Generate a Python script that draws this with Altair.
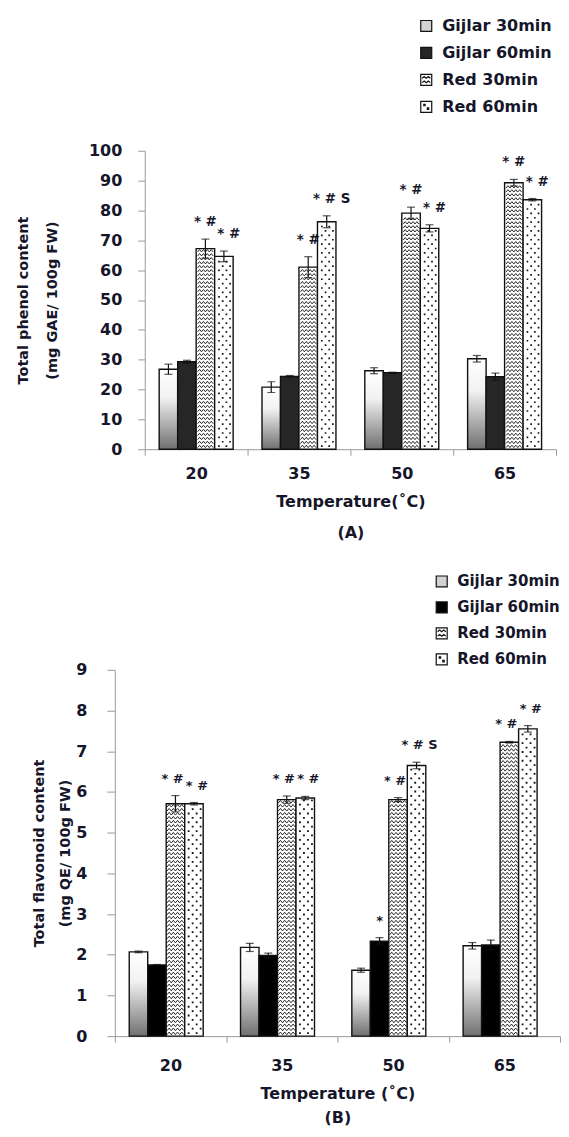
import altair as alt
import pandas as pd

temps = ["20", "35", "50", "65"]
series = ["Gijlar 30min", "Gijlar 60min", "Red 30min", "Red 60min"]

# ---- Panel A: total phenol content (mg GAE / 100 g FW)
phenol_g30 = [26.8, 20.8, 26.3, 30.3]
phenol_g60 = [29.3, 24.4, 25.6, 24.3]
phenol_r30 = [67.2, 61.0, 79.1, 89.3]
phenol_r60 = [64.6, 76.2, 74.0, 83.6]
phenol_g30_err = [1.7, 1.8, 1.0, 1.1]
phenol_g60_err = [0.5, 0.3, 0.2, 1.2]
phenol_r30_err = [3.2, 3.5, 2.0, 1.1]
phenol_r60_err = [1.8, 2.0, 1.2, 0.4]
phenol_sig_g30 = ["", "", "", ""]
phenol_sig_g60 = ["", "", "", ""]
phenol_sig_r30 = ["* #", "* #", "* #", "* #"]
phenol_sig_r60 = ["* #", "* # S", "* #", "* #"]

# ---- Panel B: total flavonoid content (mg QE / 100 g FW)
flav_g30 = [2.07, 2.18, 1.62, 2.22]
flav_g60 = [1.75, 1.98, 2.33, 2.24]
flav_r30 = [5.71, 5.81, 5.81, 7.22]
flav_r60 = [5.71, 5.85, 6.65, 7.55]
flav_g30_err = [0.02, 0.10, 0.05, 0.08]
flav_g60_err = [0.01, 0.06, 0.09, 0.12]
flav_r30_err = [0.20, 0.09, 0.05, 0.02]
flav_r60_err = [0.03, 0.04, 0.08, 0.08]
flav_sig_g30 = ["", "", "", ""]
flav_sig_g60 = ["", "", "*", ""]
flav_sig_r30 = ["* #", "* #", "* #", "* #"]
flav_sig_r60 = ["* #", "* #", "* # S", "* #"]

TXT = "#16162a"
AX = "#9a9a9a"
INK = "#111111"
SQ = "M-1,-1H1V1H-1Z"
LEG_WAVE = SQ + " M-0.75,-0.3L-0.375,-0.6L0,-0.3L0.375,-0.6L0.75,-0.3 M-0.75,0.5L-0.375,0.2L0,0.5L0.375,0.2L0.75,0.5"
LEG_DOT = SQ + " M-0.45,-0.45h0.25v0.25h-0.25Z M0.2,0.2h0.25v0.25h-0.25Z"
WAVE = "M-0.84,0.13L-0.63,-0.13L-0.42,0.13L-0.21,-0.13L0,0.13L0.21,-0.13L0.42,0.13L0.63,-0.13L0.84,0.13"
DOTS_0 = "M-0.62,-0.09h0.18v0.18h-0.18Z M0.18,-0.09h0.18v0.18h-0.18Z"
DOTS_1 = "M-0.22,-0.09h0.18v0.18h-0.18Z M0.58,-0.09h0.18v0.18h-0.18Z"

GRAD = alt.LinearGradient(
    gradient="linear",
    stops=[alt.GradientStop(color="#ffffff", offset=0),
           alt.GradientStop(color="#f2f2f2", offset=0.35),
           alt.GradientStop(color="#707070", offset=1)],
    x1=0, x2=0, y1=0, y2=1)


def table(vals, errs, sigs):
    rows = []
    for s, vl, el, sl in zip(series, vals, errs, sigs):
        for t, v, e, g in zip(temps, vl, el, sl):
            rows.append({"temp": t, "series": s, "value": v,
                         "lo": v - e, "hi": v + e, "sig": g})
    return pd.DataFrame(rows)


def pattern_rows(df, s, step):
    out = []
    for r in df[df.series == s].itertuples():
        y = step * 0.7
        k = 0
        while y < r.value - step * 0.5:
            out.append({"temp": r.temp, "series": s, "y": y, "parity": k % 2})
            y += step
            k += 1
    return pd.DataFrame(out)


def panel(df, W, H, ymax, yvals, ytitle, ytlh, xtitle, xtlh, legx, legy,
          leg_font, leg_rowpad, g60color, ytick_font, xtick_font, ytick_size,
          ylabpad, ytitlepad, ytitle_font, xlabpad, xtitlepad, sig_font, dx30, dx60):
    ppu = H / ymax
    bw = W / 4 / (4 + 2 * 0.78)
    wave_step = 4.0 / ppu
    dot_step = 4.4 / ppu

    x_axis = alt.Axis(title=xtitle, labelAngle=0, tickBand="extent", tickSize=6,
                      tickColor=AX, domainColor=AX, labelFontSize=xtick_font,
                      labelFontWeight="bold", labelColor=TXT, labelPadding=xlabpad,
                      titleFontSize=16, titleFontWeight="bold", titleColor=TXT,
                      titlePadding=xtitlepad, titleLineHeight=xtlh, grid=False)
    y_axis = alt.Axis(title=ytitle, values=yvals, format="d", tickSize=ytick_size,
                      tickColor=AX, domainColor=AX, labelFontSize=ytick_font,
                      labelFontWeight="bold", labelColor=TXT, labelPadding=ylabpad,
                      titleFontSize=ytitle_font, titleFontWeight="bold", titleColor=TXT,
                      titlePadding=ytitlepad, titleLineHeight=ytlh, grid=False)

    X = alt.X("temp:N", sort=temps,
              scale=alt.Scale(domain=temps, paddingInner=0, paddingOuter=0), axis=x_axis)
    XO = alt.XOffset("series:N",
                     scale=alt.Scale(domain=series, paddingInner=0, paddingOuter=0.78))

    def Y(f):
        return alt.Y(f + ":Q", scale=alt.Scale(domain=[0, ymax], nice=False), axis=y_axis)

    legend = alt.Legend(title=None, orient="none", legendX=legx, legendY=legy,
                        symbolSize=121, symbolStrokeColor="black", symbolStrokeWidth=1.2,
                        symbolOpacity=1, labelFontSize=leg_font, labelFontWeight="bold",
                        labelColor=TXT, labelOffset=8, rowPadding=leg_rowpad, padding=0)

    base = alt.Chart(df)
    leg_layer = base.mark_point(filled=True, opacity=0).encode(
        x=X, xOffset=XO, y=Y("value"),
        fill=alt.Fill("series:N", scale=alt.Scale(domain=series,
                      range=["#d2d2d2", g60color, "#ffffff", "#ffffff"]), legend=legend),
        shape=alt.Shape("series:N", scale=alt.Scale(domain=series,
                        range=[SQ, SQ, LEG_WAVE, LEG_DOT]), legend=legend),
        stroke=alt.Stroke("series:N", scale=alt.Scale(domain=series,
                          range=[INK, INK, INK, INK]), legend=legend),
    )

    def bars(s, fill):
        return base.transform_filter(alt.datum.series == s).mark_bar(
            fill=fill, stroke=INK, strokeWidth=1.4).encode(
            x=X, xOffset=XO, y=Y("value"))

    waves = alt.Chart(pattern_rows(df, "Red 30min", wave_step)).mark_point(
        shape=WAVE, filled=False, stroke=INK, strokeWidth=0.9,
        size=bw * bw, opacity=1).encode(x=X, xOffset=XO, y=Y("y"))
    dots = pattern_rows(df, "Red 60min", dot_step)
    dots0 = alt.Chart(dots[dots.parity == 0]).mark_point(
        shape=DOTS_0, filled=True, fill=INK, strokeWidth=0,
        size=bw * bw, opacity=1).encode(x=X, xOffset=XO, y=Y("y"))
    dots1 = alt.Chart(dots[dots.parity == 1]).mark_point(
        shape=DOTS_1, filled=True, fill=INK, strokeWidth=0,
        size=bw * bw, opacity=1).encode(x=X, xOffset=XO, y=Y("y"))

    rules = base.mark_rule(color=INK, strokeWidth=1.2).encode(
        x=X, xOffset=XO, y=Y("lo"), y2="hi:Q")
    cap_hi = base.mark_tick(color=INK, thickness=1.2, size=8).encode(
        x=X, xOffset=XO, y=Y("hi"))
    cap_lo = base.mark_tick(color=INK, thickness=1.2, size=8).encode(
        x=X, xOffset=XO, y=Y("lo"))

    def sig_text(s, dx):
        return base.transform_filter(
            (alt.datum.series == s) & (alt.datum.sig != "")).mark_text(
            dy=-17, dx=dx, fontSize=sig_font, fontWeight="bold", color=TXT,
            baseline="middle").encode(x=X, xOffset=XO, y=Y("hi"), text="sig:N")

    return alt.layer(
        leg_layer,
        bars("Gijlar 30min", GRAD), bars("Gijlar 60min", g60color),
        bars("Red 30min", "#ffffff"), bars("Red 60min", "#ffffff"),
        waves, dots0, dots1, rules, cap_hi, cap_lo,
        sig_text("Gijlar 60min", 0), sig_text("Red 30min", dx30), sig_text("Red 60min", dx60),
    ).properties(width=W, height=H)


dfA = table([phenol_g30, phenol_g60, phenol_r30, phenol_r60],
            [phenol_g30_err, phenol_g60_err, phenol_r30_err, phenol_r60_err],
            [phenol_sig_g30, phenol_sig_g60, phenol_sig_r30, phenol_sig_r60])
dfB = table([flav_g30, flav_g60, flav_r30, flav_r60],
            [flav_g30_err, flav_g60_err, flav_r30_err, flav_r60_err],
            [flav_sig_g30, flav_sig_g60, flav_sig_r30, flav_sig_r60])

# legends are positioned within each row group
chartA = panel(dfA, W=412, H=299, ymax=100, yvals=list(range(0, 101, 10)),
               ytitle=["Total phenol content", "(mg GAE/ 100g FW)"], ytlh=29,
               xtitle=["Temperature(˚C)", "(A)"], xtlh=31, legx=405, legy=-133,
               leg_font=16, leg_rowpad=11, g60color="#262626",
               ytick_font=16, xtick_font=16, ytick_size=7, ylabpad=16, ytitlepad=29,
               ytitle_font=14.5, xlabpad=10, xtitlepad=12, sig_font=13.5, dx30=0, dx60=5)
chartB = panel(dfB, W=446, H=367, ymax=9, yvals=list(range(0, 10)),
               ytitle=["Total flavonoid content", "(mg QE/ 100g FW)"], ytlh=26,
               xtitle=["Temperature (˚C)", "(B)"], xtlh=25, legx=421, legy=-96,
               leg_font=15, leg_rowpad=9, g60color="#000000",
               ytick_font=16, xtick_font=16, ytick_size=8, ylabpad=20, ytitlepad=3,
               ytitle_font=14.5, xlabpad=15, xtitlepad=12, sig_font=13, dx30=-3, dx60=3)

# thin invisible lead-in column: the two panels sit at different left offsets, as in the figure
spacer = alt.Chart(pd.DataFrame({"v": [0]})).mark_point(opacity=0, size=1).encode(
    x=alt.X("v:Q", axis=None), y=alt.Y("v:Q", axis=None)).properties(width=1, height=1)

rowA = alt.hconcat(spacer, chartA, spacing=0)
rowB = alt.hconcat(spacer, chartB, spacing=16)

chart = alt.vconcat(rowA, rowB, spacing=34).resolve_scale(
    fill="independent", shape="independent", stroke="independent"
).configure(
    font="DejaVu Sans",
    padding={"left": 6, "top": 9, "right": 0, "bottom": 0},
).configure_view(stroke=None)

chart.save("out.html", embed_options={"renderer": "svg", "actions": False})
